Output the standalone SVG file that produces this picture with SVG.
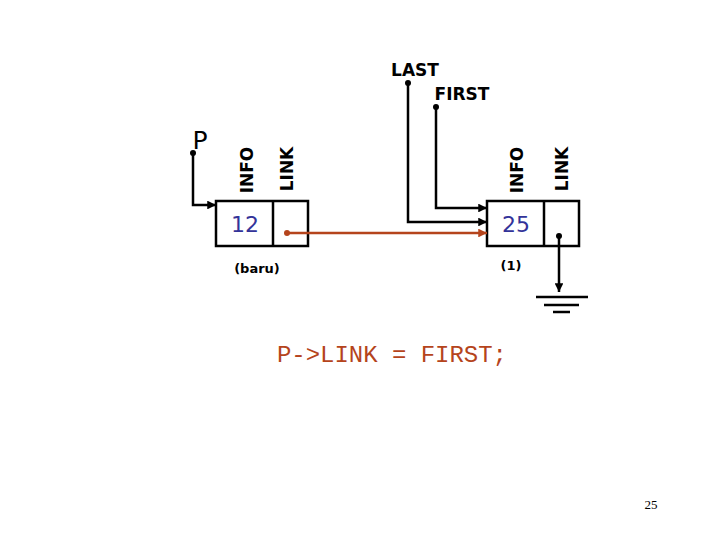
<svg xmlns="http://www.w3.org/2000/svg" width="720" height="540" viewBox="0 0 720 540">
<style>
.box{fill:#fff;stroke:#000;stroke-width:2.5}
.wire{fill:none;stroke:#000;stroke-width:2.5}
.red{fill:none;stroke:#b5441c;stroke-width:2.5}
.lbl{font-family:"DejaVu Sans",sans-serif;font-weight:bold;font-size:17px;fill:#000}
.val{font-family:"DejaVu Sans",sans-serif;font-size:22px;fill:#333399}
.sm{font-family:"DejaVu Sans",sans-serif;font-weight:bold;font-size:13px;fill:#000}
.code{font-family:"Liberation Mono",monospace;font-size:24px;fill:#b5441c}
</style>
<defs>
<marker id="ah" viewBox="0 0 10 10" refX="10" refY="5" markerWidth="3.5" markerHeight="3.5" orient="auto" markerUnits="strokeWidth"><path d="M0,0L10,5L0,10z" fill="#000"/></marker>
<marker id="ahr" viewBox="0 0 10 10" refX="10" refY="5" markerWidth="3.5" markerHeight="3.5" orient="auto" markerUnits="strokeWidth"><path d="M0,0L10,5L0,10z" fill="#b5441c"/></marker>
</defs>
<g id="node-baru">
<rect class="box" x="216" y="201" width="92" height="45"/>
<line class="wire" x1="273" y1="201" x2="273" y2="246"/>
<text class="val" x="245" y="232" text-anchor="middle">12</text>
<text class="lbl" transform="translate(253,170) rotate(-90)" text-anchor="middle">INFO</text>
<text class="lbl" transform="translate(293,169) rotate(-90)" text-anchor="middle">LINK</text>
<text class="sm" x="257" y="273" text-anchor="middle">(baru)</text>
</g>
<g id="node-1">
<rect class="box" x="487" y="201" width="92" height="45"/>
<line class="wire" x1="544" y1="201" x2="544" y2="246"/>
<text class="val" x="516" y="232" text-anchor="middle">25</text>
<text class="lbl" transform="translate(523,170) rotate(-90)" text-anchor="middle">INFO</text>
<text class="lbl" transform="translate(568,169) rotate(-90)" text-anchor="middle">LINK</text>
<text class="sm" x="511" y="270" text-anchor="middle">(1)</text>
</g>
<g id="ptr-P">
<text x="200" y="149" font-family="DejaVu Sans,sans-serif" font-size="25" text-anchor="middle">P</text>
<circle cx="193" cy="153" r="3"/>
</g>
<g id="ptr-LAST">
<text class="lbl" x="415" y="76" text-anchor="middle">LAST</text>
<circle cx="408" cy="83" r="3"/>
</g>
<g id="ptr-FIRST">
<text class="lbl" x="462" y="100" text-anchor="middle">FIRST</text>
<circle cx="436" cy="107" r="3"/>
</g>
<g id="ground">
<line class="wire" x1="536" y1="297" x2="588" y2="297"/>
<line class="wire" x1="544" y1="305" x2="579" y2="305"/>
<line class="wire" x1="553" y1="312" x2="570" y2="312"/>
</g>
<g id="connectors">
<polyline class="wire" points="193,153 193,205 216,205" marker-end="url(#ah)"/>
<polyline class="wire" points="408,83 408,222 487,222" marker-end="url(#ah)"/>
<polyline class="wire" points="436,107 436,208 487,208" marker-end="url(#ah)"/>
<circle cx="287" cy="233" r="3" fill="#b5441c"/>
<line class="red" x1="287" y1="233" x2="487" y2="233" marker-end="url(#ahr)"/>
<circle cx="559" cy="236" r="3"/>
<line class="wire" x1="559" y1="236" x2="559" y2="292" marker-end="url(#ah)"/>
</g>
<text class="code" x="277" y="362" textLength="230">P-&gt;LINK = FIRST;</text>
<text x="651" y="509" font-family="Liberation Serif,serif" font-size="13" text-anchor="middle">25</text>
</svg>
